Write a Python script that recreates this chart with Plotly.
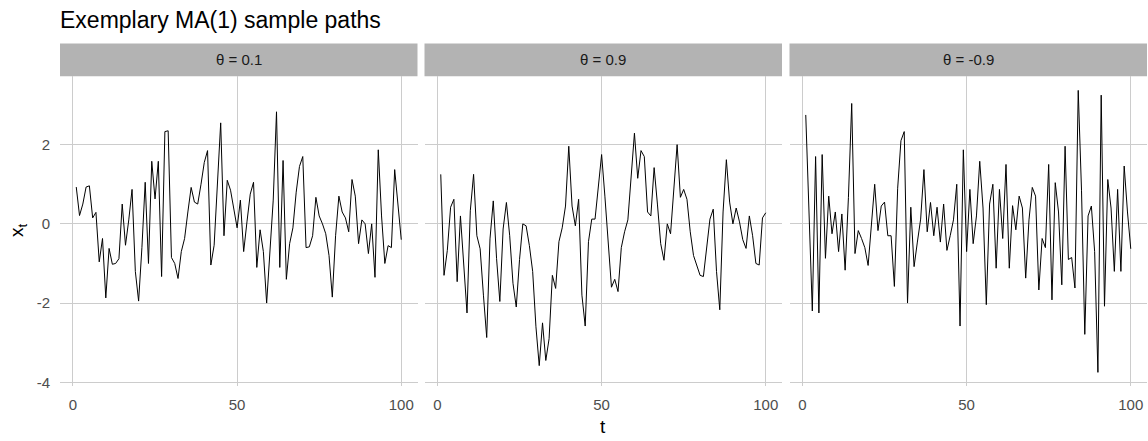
import plotly.graph_objects as go

W, H = 1148, 441

t = list(range(1, 101))

theta_labels = ["θ = 0.1", "θ = 0.9", "θ = -0.9"]

x_theta_01 = [0.93, 0.21, 0.5, 0.93, 0.96, 0.15, 0.29, -0.96, -0.37, -1.87,
              -0.62, -1.02, -1.0, -0.88, 0.5, -0.54, 0.1, 0.87, -1.2, -1.95,
              -0.6, 1.05, -1.0, 1.58, 0.63, 1.58, -1.33, 2.33, 2.35, -0.85,
              -1.0, -1.38, -0.7, -0.37, 0.3, 0.92, 0.55, 0.5, 1.0, 1.55,
              1.85, -1.04, -0.54, 0.9, 2.55, -0.3, 1.1, 0.85, 0.4, -0.1,
              0.6, -0.7, 0.05, 0.75, 1.05, -1.1, -0.15, -0.7, -2.0, -0.55,
              0.6, 2.83, -1.1, 1.6, -1.4, -0.5, -0.1, 0.8, 1.45, 1.7,
              -0.6, -0.58, -0.3, 0.67, 0.2, 0.0, -0.25, -0.8, -1.85, -0.3,
              0.7, 0.3, 0.15, -0.2, 1.12, 0.7, -0.5, 0.1, 0.0, -0.75,
              0.0, -1.35, 1.87, 0.2, -1.0, -0.55, -0.6, 1.37, 0.5, -0.4]

x_theta_09 = [1.25, -1.3, -0.67, 0.42, 0.62, -1.46, 0.2, -1.0, -2.25, 0.33,
              1.25, -0.3, -0.63, -1.8, -2.87, -0.38, 0.58, -0.87, -1.96, -0.13,
              0.54, -0.3, -1.5, -2.1, -0.9, 0.0, -0.05, -0.55, -1.2, -2.6,
              -3.58, -2.5, -3.45, -2.9, -1.3, -1.63, -0.45, -0.1, 0.45, 1.96,
              0.45, -0.05, 0.62, -1.8, -2.58, -0.45, 0.12, 0.12, 1.04, 1.75,
              0.7, -0.5, -1.6, -1.4, -1.71, -0.6, -0.2, 0.1, 1.2, 2.29,
              1.15, 1.85, 1.7, 0.3, 0.2, 1.42, 0.5, -0.5, -0.92, 0.0,
              -0.25, 0.9, 2.0, 0.67, 0.87, 0.62, -0.2, -0.8, -1.04, -1.3,
              -1.33, -0.54, 0.12, 0.37, -1.2, -2.17, 0.3, 1.62, 0.55, 0.0,
              0.4, 0.05, -0.4, -0.62, 0.2, -0.3, -1.0, -1.04, 0.15, 0.28]

x_theta_m09 = [2.75, 0.2, -2.2, 1.7, -2.25, 1.75, -0.87, 0.7, -0.25, 0.3,
               -0.7, 0.25, -1.17, 0.67, 3.04, -0.75, -0.17, -0.37, -0.6, -1.05,
               0.0, 1.0, -0.17, 0.45, 0.55, -0.3, -0.3, -1.58, 0.9, 2.1,
               2.33, -2.0, 0.42, -1.08, -0.46, 0.12, 1.37, -0.2, 0.54, -0.3,
               0.42, -0.46, 0.5, -0.67, -0.3, 0.1, 1.0, -2.58, 1.87, -0.7,
               0.87, -0.5, 0.2, 1.58, 0.4, -2.04, 0.5, 1.0, -1.12, 0.87,
               -0.37, 1.5, -1.12, 0.46, -0.15, 0.7, 0.4, -1.37, 0.1, 0.92,
               0.7, -1.67, -0.37, -0.6, 1.5, -1.92, 1.04, 0.3, -1.54, 1.96,
               -0.9, -0.85, -1.62, 3.37, 0.85, -2.79, 0.2, 0.45, -0.7, -3.75,
               3.25, -2.08, 1.12, 0.4, -1.2, 0.87, -1.2, 1.46, 0.3, -0.63]

series = [x_theta_01, x_theta_09, x_theta_m09]

x_ticks = [0, 50, 100]
y_ticks = [-4, -2, 0, 2]
y_ticktext = ["-4", "-2", "0", "2"]

# ggplot-like 5% expansion
allv = x_theta_01 + x_theta_09 + x_theta_m09
ymin, ymax = min(allv), max(allv)
ypad = 0.05 * (ymax - ymin)
yrange = [ymin - ypad, ymax + ypad]
xpad = 0.05 * (max(t) - min(t))
xrange = [min(t) - xpad, max(t) + xpad]

panels_px = [(60, 417.5), (424.5, 782), (789.5, 1147)]
top_px, bot_px = 77, 390
strip_top_px = 44

fig = go.Figure()
font_fam = "Liberation Sans, Arial, sans-serif"

for i, vals in enumerate(series):
    ax = "" if i == 0 else str(i + 1)
    fig.add_trace(go.Scatter(x=t, y=vals, mode="lines",
                             line=dict(color="black", width=1),
                             xaxis="x" + ax, yaxis="y" + ax,
                             showlegend=False, hoverinfo="skip"))
    x0, x1 = panels_px[i]
    xa = dict(domain=[x0 / W, x1 / W], range=xrange, tickvals=x_ticks,
              showgrid=True, gridcolor="#CCCCCC", gridwidth=1, zeroline=False,
              showline=False, ticks="outside", ticklen=5,
              tickcolor="rgba(0,0,0,0)",
              tickfont=dict(family=font_fam, size=15, color="#4D4D4D"),
              anchor="y" + ax)
    ya = dict(domain=[1 - bot_px / H, 1 - top_px / H], range=yrange,
              tickvals=y_ticks, ticktext=y_ticktext,
              showgrid=True, gridcolor="#CCCCCC", gridwidth=1, zeroline=False,
              showline=False, ticks="outside", ticklen=6,
              tickcolor="rgba(0,0,0,0)",
              showticklabels=(i == 0),
              tickfont=dict(family=font_fam, size=15, color="#4D4D4D"),
              anchor="x" + ax)
    fig.update_layout(**{"xaxis" + ax: xa, "yaxis" + ax: ya})
    fig.add_shape(type="rect", xref="paper", yref="paper",
                  x0=x0 / W, x1=x1 / W,
                  y0=1 - top_px / H, y1=1 - strip_top_px / H,
                  fillcolor="#B3B3B3", line=dict(width=0), layer="below")
    fig.add_annotation(text=theta_labels[i], xref="paper", yref="paper",
                       x=(x0 + x1) / 2 / W, y=1 - (top_px + strip_top_px) / 2 / H,
                       xanchor="center", yanchor="middle", showarrow=False,
                       font=dict(family=font_fam, size=15, color="#1A1A1A"))

fig.add_annotation(text="Exemplary MA(1) sample paths", xref="paper", yref="paper",
                   x=58 / W, y=1 - 20 / H, xanchor="left", yanchor="middle",
                   showarrow=False,
                   font=dict(family=font_fam, size=23, color="black"))
fig.add_annotation(text="t", xref="paper", yref="paper",
                   x=603 / W, y=1 - 430 / H, xanchor="center", yanchor="middle",
                   showarrow=False,
                   font=dict(family=font_fam, size=19, color="black"))
fig.add_annotation(text="x<sub>t</sub>", xref="paper", yref="paper",
                   x=18 / W, y=1 - 232 / H, xanchor="center", yanchor="middle",
                   textangle=-90, showarrow=False,
                   font=dict(family=font_fam, size=19, color="black"))

fig.update_layout(width=W, height=H, margin=dict(l=0, r=0, t=0, b=0),
                  paper_bgcolor="white", plot_bgcolor="white")

fig.write_html("out.html")
